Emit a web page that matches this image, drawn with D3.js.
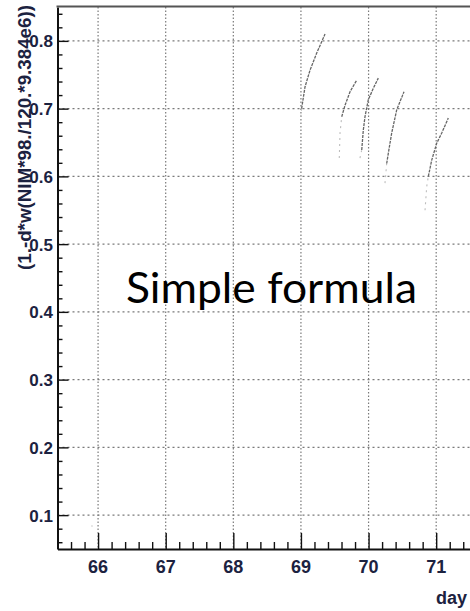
<!DOCTYPE html>
<html>
<head>
<meta charset="utf-8">
<script src="https://cdn.jsdelivr.net/npm/d3@7"></script>
<style>
  body { margin: 0; background: #fff; }
  svg { display: block; }
</style>
</head>
<body>
<div id="chart"></div>
<script>
// Ticks of the axes
const xMajor = [66, 67, 68, 69, 70, 71];
const yMajor = [0.1, 0.2, 0.3, 0.4, 0.5, 0.6, 0.7, 0.8];
const yLabels = ['0.1', '0.2', '0.3', '0.4', '0.5', '0.6', '0.7', '0.8'];

// Tracks: [day, value]
const track1 = [[69.01, 0.700], [69.06, 0.732], [69.135, 0.757], [69.233, 0.782], [69.356, 0.810]];
const track1Tail = [[68.997, 0.688], [69.01, 0.700]];
const track2 = [[69.603, 0.688], [69.652, 0.705], [69.726, 0.725], [69.825, 0.742]];
const track2Tail = [[69.567, 0.627], [69.578, 0.664], [69.603, 0.688]];
const track3 = [[69.899, 0.639], [69.922, 0.668], [69.947, 0.688], [69.996, 0.713], [70.07, 0.730], [70.144, 0.745]];
const track3Tail = [[69.873, 0.627], [69.899, 0.639]];
const track4 = [[70.268, 0.619], [70.292, 0.634], [70.342, 0.664], [70.416, 0.698], [70.524, 0.725]];
const track4Tail = [[70.243, 0.590], [70.268, 0.619]];
const track5 = [[70.884, 0.600], [70.934, 0.624], [71.008, 0.649], [71.082, 0.664], [71.179, 0.686]];
const track5Tail = [[70.835, 0.550], [70.86, 0.585], [70.884, 0.600]];
const strayPoints = [[65.91, 0.084]];

const width = 470, height = 611;
const padLeft = 57.5, padTop = 7, padBottom = 549;

const svg = d3.select('#chart').append('svg')
  .attr('width', width)
  .attr('height', height);

const x = d3.scaleLinear().domain([65.4, 71.5]).range([padLeft, width]);
const y = d3.scaleLinear().domain([0.05, 0.85]).range([padBottom, padTop]);

const axisFont = '"Liberation Sans", Arial, sans-serif';
const labelColor = '#1c2240';

// Rejilla punteada
svg.append('g')
  .selectAll('line')
  .data(xMajor)
  .enter()
  .append('line')
  .attr('x1', d => x(d)).attr('x2', d => x(d))
  .attr('y1', padTop).attr('y2', padBottom)
  .attr('stroke', '#7a7a7a')
  .attr('stroke-width', 1.2)
  .attr('stroke-dasharray', '1.5,2');

svg.append('g')
  .selectAll('line')
  .data(yMajor)
  .enter()
  .append('line')
  .attr('x1', padLeft).attr('x2', width)
  .attr('y1', d => y(d)).attr('y2', d => y(d))
  .attr('stroke', '#7a7a7a')
  .attr('stroke-width', 1.2)
  .attr('stroke-dasharray', '2,3');

// Tracks
const line = d3.line().x(d => x(d[0])).y(d => y(d[1]));
const tracks = [track1, track2, track3, track4, track5];
const tails = [track1Tail, track2Tail, track3Tail, track4Tail, track5Tail];

svg.append('g')
  .selectAll('path')
  .data(tails)
  .enter()
  .append('path')
  .attr('d', line)
  .attr('fill', 'none')
  .attr('stroke', '#bdbdbd')
  .attr('stroke-width', 1.1)
  .attr('stroke-dasharray', '2,4');

svg.append('g')
  .selectAll('path')
  .data(tracks)
  .enter()
  .append('path')
  .attr('d', line)
  .attr('fill', 'none')
  .attr('stroke', '#666')
  .attr('stroke-width', 1.3)
  .attr('stroke-dasharray', '3,1');

svg.append('g')
  .selectAll('circle')
  .data(strayPoints)
  .enter()
  .append('circle')
  .attr('cx', d => x(d[0]))
  .attr('cy', d => y(d[1]))
  .attr('r', 0.8)
  .attr('fill', '#c8c8c8');

// Ejes con ticks hacia dentro, al estilo ROOT
const xAxis = d3.axisBottom(x)
  .tickValues(d3.range(65.4, 71.45, 0.2).map(v => +v.toFixed(1)))
  .tickFormat('')
  .tickSizeInner(-7)
  .tickSizeOuter(0);
const gx = svg.append('g').attr('transform', `translate(0,${padBottom})`).call(xAxis);
gx.selectAll('.tick line')
  .attr('y2', d => xMajor.includes(d) ? -16 : -7)
  .attr('stroke', '#111')
  .attr('stroke-width', 1.4);
gx.select('.domain').attr('stroke', '#111').attr('stroke-width', 2);

const yAxis = d3.axisLeft(y)
  .tickValues(d3.range(0.06, 0.849, 0.02).map(v => +v.toFixed(2)))
  .tickFormat('')
  .tickSizeInner(-5)
  .tickSizeOuter(0);
const gy = svg.append('g').attr('transform', `translate(${padLeft},0)`).call(yAxis);
gy.selectAll('.tick line')
  .attr('x2', d => yMajor.some(m => Math.abs(m - d) < 1e-6) ? 11 : 5)
  .attr('stroke', '#111')
  .attr('stroke-width', 1.4);
gy.select('.domain').attr('stroke', '#111').attr('stroke-width', 2);

// Marco superior
svg.append('line')
  .attr('x1', padLeft - 1).attr('x2', width)
  .attr('y1', padTop - 0.5).attr('y2', padTop - 0.5)
  .attr('stroke', '#555')
  .attr('stroke-width', 2);

// Etiquetas de los ticks
svg.append('g')
  .selectAll('text')
  .data(xMajor)
  .enter()
  .append('text')
  .attr('x', d => x(d))
  .attr('y', 573)
  .attr('text-anchor', 'middle')
  .attr('font-family', axisFont)
  .attr('font-weight', 'bold')
  .attr('font-size', 18)
  .attr('fill', labelColor)
  .text(d => d);

svg.append('g')
  .selectAll('text')
  .data(yMajor)
  .enter()
  .append('text')
  .attr('x', 53)
  .attr('y', d => y(d) + 6.5)
  .attr('text-anchor', 'end')
  .attr('font-family', axisFont)
  .attr('font-weight', 'bold')
  .attr('font-size', 17)
  .attr('fill', labelColor)
  .text((d, i) => yLabels[i]);

// Titulos de los ejes
svg.append('text')
  .attr('transform', 'translate(31,5) rotate(-90)')
  .attr('text-anchor', 'end')
  .attr('font-family', axisFont)
  .attr('font-weight', 'bold')
  .attr('font-size', 18)
  .attr('textLength', 265)
  .attr('lengthAdjust', 'spacingAndGlyphs')
  .attr('fill', labelColor)
  .text('(1.-d*w(NIM*98./120.*9.384e6))');

svg.append('text')
  .attr('x', 436)
  .attr('y', 604)
  .attr('font-family', axisFont)
  .attr('font-weight', 'bold')
  .attr('font-size', 18)
  .attr('fill', labelColor)
  .text('day');

// Rotulo superpuesto
svg.append('text')
  .attr('x', 126)
  .attr('y', 303)
  .attr('font-family', 'Lato, "Open Sans", sans-serif')
  .attr('font-size', 43)
  .attr('textLength', 291)
  .attr('lengthAdjust', 'spacingAndGlyphs')
  .attr('fill', '#000')
  .text('Simple formula');
</script>
</body>
</html>
